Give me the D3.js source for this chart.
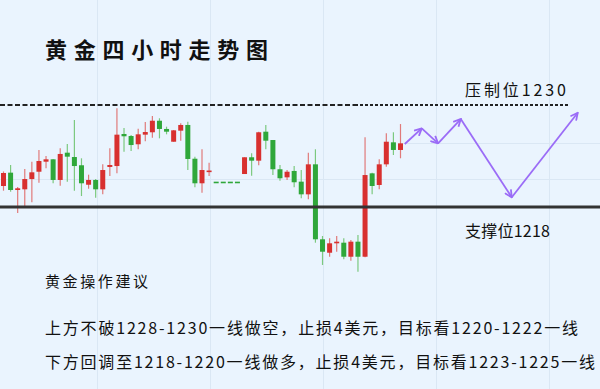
<!DOCTYPE html>
<html><head><meta charset="utf-8">
<script src="https://cdn.jsdelivr.net/npm/d3@7/dist/d3.min.js"></script>
<style>html,body{margin:0;padding:0;background:#eaf4fe;}svg{display:block;}</style>
</head><body><svg id="c" width="600" height="389"></svg>
<script>
// Candle data (price, USD), 4h candles
const openP  = [1220.47,1222.04,1220.00,1220.08,1221.29,1222.15,1223.33,1223.61,1221.18,1224.39,
                1223.88,1222.91,1220.62,1221.18,1220.08,1222.71,1222.82,1226.59,1226.35,1225.38,
                1226.51,1226.79,1228.15,1227.18,1225.68,1226.98,1227.65,1223.68,1220.79,1222.24,
                1220.98,1220.98,1220.98,1220.98,1221.88,1223.85,1223.45,1226.86,1225.88,1222.44,
                1221.49,1222.24,1220.98,1219.49,1223.02,1214.20,1212.62,1213.73,1213.80,1212.15,
                1213.92,1212.15,1221.96,1220.59,1223.02,1225.61,1224.71];
const highP  = [1222.18,1222.94,1220.35,1222.47,1223.33,1224.71,1224.00,1223.65,1224.91,1225.41,
                1228.24,1223.73,1221.80,1221.29,1223.02,1224.91,1229.61,1227.29,1226.47,1227.21,
                1228.00,1228.71,1228.44,1227.45,1227.06,1227.85,1228.04,1223.92,1224.79,1223.21,
                1220.98,1220.98,1220.98,1220.98,1223.85,1224.32,1226.86,1227.65,1225.88,1222.94,
                1222.35,1222.82,1222.35,1224.39,1224.79,1214.59,1214.32,1214.59,1214.32,1214.12,
                1214.71,1226.20,1222.04,1223.61,1226.67,1226.79,1227.76];
const lowP   = [1219.92,1219.80,1217.29,1218.12,1218.55,1220.86,1222.55,1220.79,1220.51,1220.98,
                1219.92,1219.29,1220.15,1219.09,1219.49,1221.65,1221.96,1224.51,1224.59,1224.79,
                1225.73,1226.15,1226.08,1226.55,1225.68,1225.80,1222.35,1220.32,1219.68,1221.65,
                1220.98,1220.98,1220.98,1220.98,1221.88,1221.68,1222.91,1224.79,1221.76,1221.09,
                1221.18,1220.32,1219.02,1218.91,1213.80,1211.18,1212.15,1212.74,1211.85,1211.68,
                1210.39,1212.08,1219.49,1220.08,1222.74,1224.12,1223.73];
const closeP = [1222.00,1220.00,1220.20,1221.29,1222.08,1223.41,1223.61,1221.18,1224.24,1223.92,
                1222.82,1220.79,1221.18,1220.08,1222.35,1222.94,1226.51,1226.32,1225.29,1226.55,
                1226.82,1228.15,1227.18,1226.86,1227.02,1227.65,1223.65,1220.79,1222.35,1222.29,
                1220.98,1220.98,1220.98,1220.98,1223.85,1223.45,1226.79,1225.80,1222.44,1221.38,
                1222.15,1220.91,1219.49,1223.02,1214.20,1212.74,1213.73,1213.92,1212.15,1213.92,
                1212.15,1221.76,1220.47,1223.02,1225.68,1224.71,1225.49];

// Forecast path (candle-index position, price)
const pathIdx   = [56.6, 59.0, 61.3, 64.5, 71.7, 81.0];
const pathPrice = [1225.41, 1227.26, 1225.49, 1228.35, 1219.14, 1229.09];

// Key levels
const resistance = 1230;
const support = 1218;

const title = "黄金四小时走势图";
const resLabel = "压制位1230";
const supLabel = "支撑位1218";
const adviceTitle = "黄金操作建议";
const advice = ["上方不破1228-1230一线做空，止损4美元，目标看1220-1222一线",
                "下方回调至1218-1220一线做多，止损4美元，目标看1223-1225一线"];

const W = 600, H = 389;
const svg = d3.select("#c");
const x = d3.scaleLinear().domain([0, 56]).range([3.5, 400.5]);
const y = d3.scaleLinear().domain([1218, 1230]).range([207, 105]);

svg.append("rect").attr("width", W).attr("height", H).attr("fill", "#eaf4fe");

// faint background grid
const g0 = svg.append("g").attr("stroke", "#dae7f4").attr("stroke-width", 1);
[97, 210, 323, 436, 549].forEach(v => g0.append("line").attr("x1", v+0.5).attr("x2", v+0.5).attr("y1", 0).attr("y2", H));
g0.append("line").attr("x1", 0).attr("x2", W).attr("y1", 179.5).attr("y2", 179.5);
g0.append("line").attr("x1", 400).attr("x2", W).attr("y1", 143.5).attr("y2", 143.5);

// title
const cjk = "'Noto Sans CJK SC','Noto Sans CJK JP',sans-serif";
svg.append("text").attr("x", 45).attr("y", 58).attr("font-family", cjk).attr("font-weight", "bold")
  .attr("font-size", 22).attr("fill", "#111").attr("textLength", 223).attr("lengthAdjust", "spacing").text(title);

// resistance dashed line
svg.append("line").attr("x1", 0).attr("x2", 355).attr("y1", y(resistance)).attr("y2", y(resistance))
  .attr("stroke", "#222").attr("stroke-width", 2).attr("stroke-dasharray", "5,2.5");
svg.append("line").attr("x1", 355).attr("x2", 568).attr("y1", y(resistance)).attr("y2", y(resistance))
  .attr("stroke", "#222").attr("stroke-width", 2).attr("stroke-dasharray", "3,2");

// candles
const data = openP.map((o, i) => ({i, o, h: highP[i], l: lowP[i], c: closeP[i]}));
const col = d => d.c > d.o ? "#d8302f" : "#2fa73a";
const wickCol = d => d.c > d.o ? "#e07a7a" : "#7cc97f";
const cg = svg.append("g");
cg.selectAll("line.w").data(data).enter().append("line")
  .attr("x1", d => x(d.i)).attr("x2", d => x(d.i))
  .attr("y1", d => y(d.h)).attr("y2", d => y(d.l))
  .attr("stroke", wickCol).attr("stroke-width", 1.2);
cg.selectAll("rect.b").data(data).enter().append("rect")
  .attr("x", d => x(d.i) - 2.5).attr("width", 5)
  .attr("y", d => Math.min(y(d.o), y(d.c)))
  .attr("height", d => Math.max(1.6, Math.abs(y(d.o) - y(d.c))))
  .attr("fill", col);

// support line
svg.append("line").attr("x1", 0).attr("x2", W).attr("y1", y(support)).attr("y2", y(support))
  .attr("stroke", "#333").attr("stroke-width", 3);

// forecast path with arrows
const purple = "#9b6cf7";
svg.append("defs").append("marker").attr("id", "arr").attr("viewBox", "0 0 10 10")
  .attr("refX", 9).attr("refY", 5).attr("markerWidth", 9).attr("markerHeight", 9)
  .attr("markerUnits", "userSpaceOnUse").attr("orient", "auto")
  .append("path").attr("d", "M1,1 L9,5 L1,9").attr("fill", "none").attr("stroke", purple).attr("stroke-width", 2);
for (let k = 0; k < pathIdx.length - 1; k++) {
  svg.append("line")
    .attr("x1", x(pathIdx[k])).attr("y1", y(pathPrice[k]))
    .attr("x2", x(pathIdx[k+1])).attr("y2", y(pathPrice[k+1]))
    .attr("stroke", purple).attr("stroke-width", 1.8).attr("marker-end", "url(#arr)");
}

// level labels
svg.append("text").attr("x", 465).attr("y", 96).attr("font-family", cjk).attr("font-size", 16)
  .attr("fill", "#111").attr("textLength", 101).attr("lengthAdjust", "spacing").text(resLabel);
svg.append("text").attr("x", 465).attr("y", 237).attr("font-family", cjk).attr("font-size", 16)
  .attr("fill", "#111").attr("textLength", 85).attr("lengthAdjust", "spacing").text(supLabel);

// advice text
svg.append("text").attr("x", 45).attr("y", 287).attr("font-family", cjk).attr("font-size", 15)
  .attr("fill", "#111").attr("textLength", 103).attr("lengthAdjust", "spacing").text(adviceTitle);
const lens = [533, 550], ys = [334, 368];
advice.forEach((t, k) => {
  svg.append("text").attr("x", 45).attr("y", ys[k]).attr("font-family", cjk).attr("font-size", 16)
    .attr("fill", "#111").attr("textLength", lens[k]).attr("lengthAdjust", "spacing").text(t);
});
</script></body></html>
